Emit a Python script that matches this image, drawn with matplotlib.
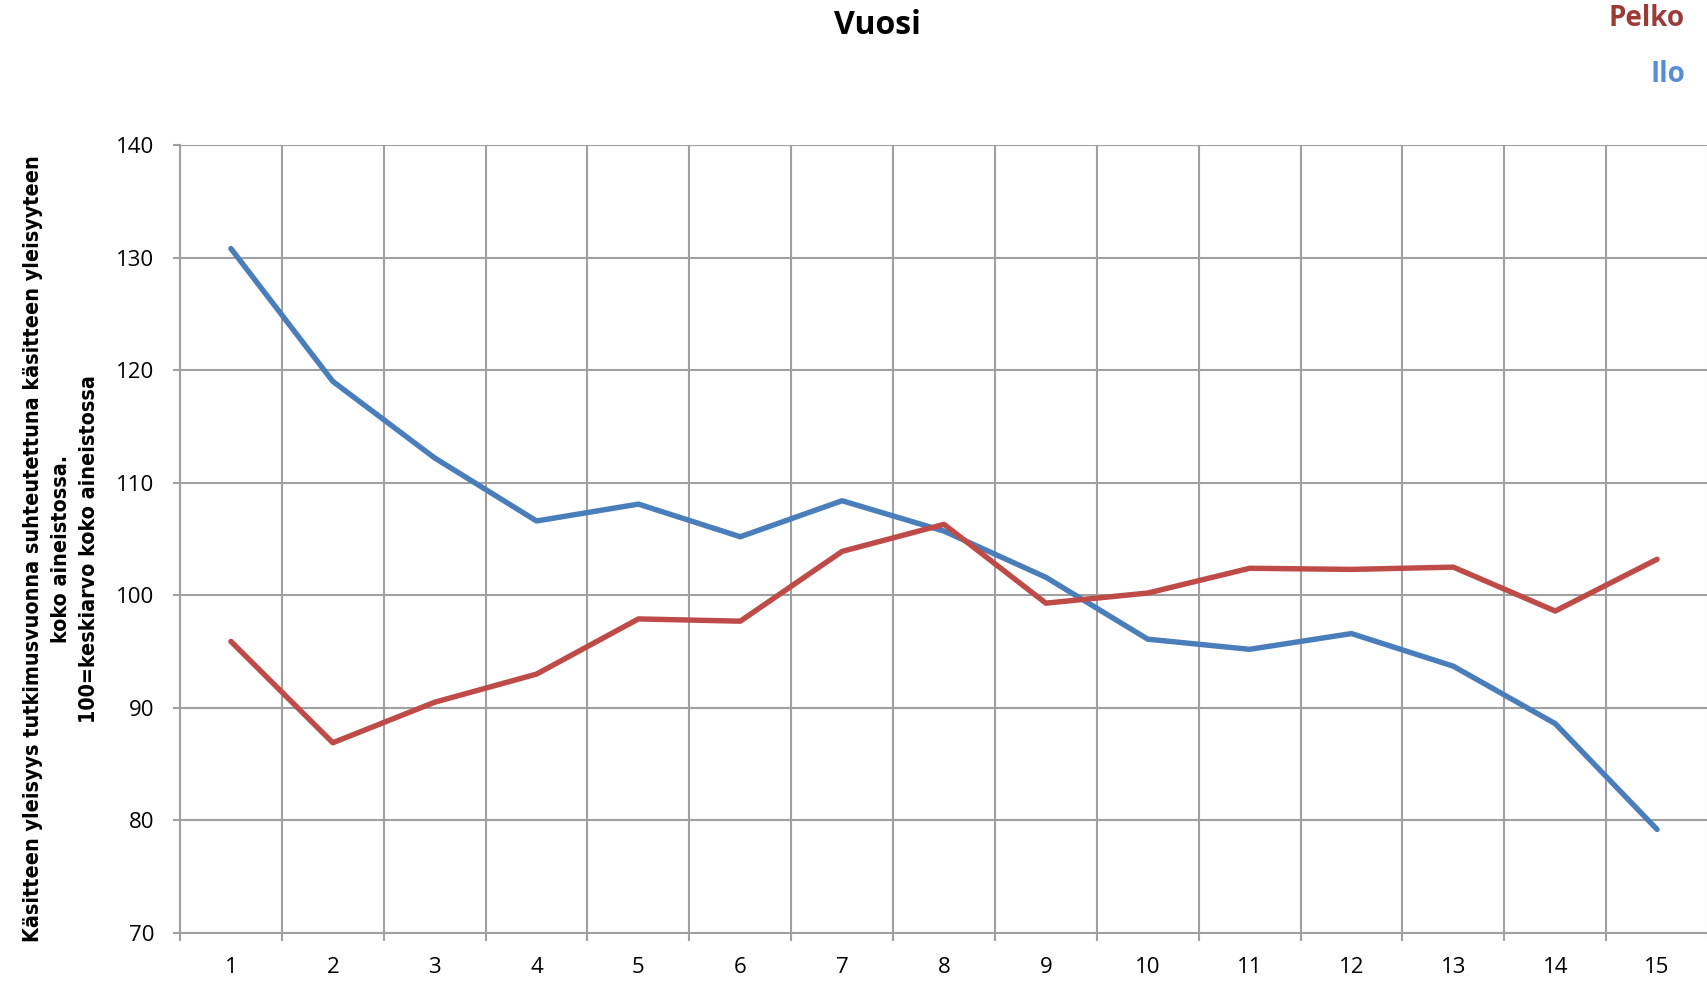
import matplotlib
matplotlib.use("Agg")
import matplotlib.pyplot as plt
import numpy as np

years = list(range(1, 16))
pelko = [95.9, 86.9, 90.5, 93.0, 97.9, 97.7, 103.9, 106.3, 99.3, 100.2, 102.4, 102.3, 102.5, 98.6, 103.2]
ilo = [130.8, 119.0, 112.2, 106.6, 108.1, 105.2, 108.4, 105.7, 101.6, 96.1, 95.2, 96.6, 93.7, 88.6, 79.2]
yticks = [70, 80, 90, 100, 110, 120, 130, 140]

plt.rcParams['font.family'] = ['Open Sans', 'DejaVu Sans']

fig = plt.figure(figsize=(17.08, 9.84), dpi=100)
ax = fig.add_axes([180/1708, 1-933/984, 1-180/1708, (933-145)/984])

grid_c = '#A0A0A0'
ax.plot(years, ilo, color='#4A7EBB', lw=3.9, solid_capstyle='round', solid_joinstyle='round', zorder=3)
ax.plot(years, pelko, color='#BE4B48', lw=3.9, solid_capstyle='round', solid_joinstyle='round', zorder=3)

ax.set_xlim(0.5, 15.5)
ax.set_ylim(70, 140)
ax.set_yticks(yticks)
ax.set_xticks(years)
ax.set_xticks(np.arange(0.5, 16, 1.0), minor=True)
ax.tick_params(axis='x', which='major', length=0, labelsize=16, pad=17)
ax.tick_params(axis='x', which='minor', length=6, width=1.5, color=grid_c, direction='out')
ax.tick_params(axis='y', length=5, width=1.5, color=grid_c, labelsize=16, pad=13.5)
ax.grid(True, axis='y', which='major', color=grid_c, lw=1.5)
ax.grid(True, axis='x', which='minor', color=grid_c, lw=1.5)
for s in ['top', 'right']:
    ax.spines[s].set_visible(False)
for s in ['left', 'bottom']:
    ax.spines[s].set_color(grid_c)
    ax.spines[s].set_linewidth(1.5)
ax.set_axisbelow(True)

fig.text(877/1708, 1-26/984, 'Vuosi', ha='center', va='center', fontsize=23, fontweight='bold')
fig.text(1685/1708, 1-19/984, 'Pelko', ha='right', va='center', fontsize=20, fontweight='bold', color='#9B3B38')
fig.text(1685/1708, 1-75/984, 'Ilo', ha='right', va='center', fontsize=20, fontweight='bold', color='#558ED5')

ylabel = ('Käsitteen yleisyys tutkimusvuonna suhteutettuna käsitteen yleisyyteen\n'
          'koko aineistossa.\n100=keskiarvo koko aineistossa')
fig.text(61/1708, 1-549/984, ylabel, rotation=90, ha='center', va='center', fontsize=15.4,
         fontweight='bold', linespacing=1.5,
         family=['Liberation Sans Narrow', 'DejaVu Sans'], fontstretch='condensed')

fig.savefig('out.png', dpi=100)
